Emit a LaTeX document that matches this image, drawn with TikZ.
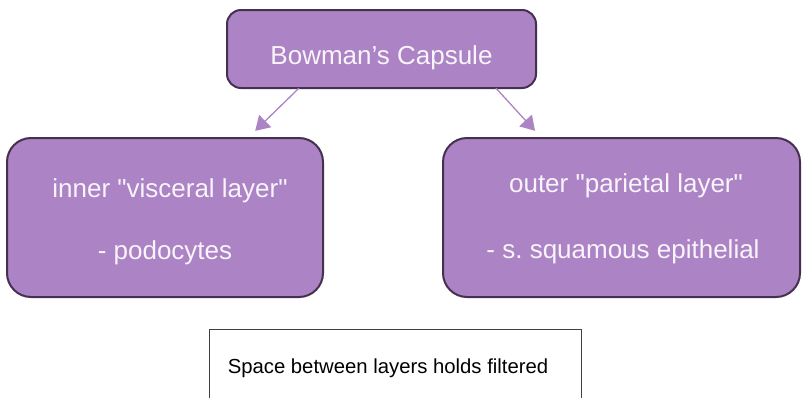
\documentclass[tikz,border=0pt]{standalone}
\usepackage{fontspec}
\setmainfont{Liberation Sans}
\usetikzlibrary{arrows.meta,calc}
\definecolor{boxfill}{HTML}{AC83C5}
\definecolor{boxline}{HTML}{45304F}
\definecolor{txtlight}{HTML}{F8F4FA}
\definecolor{plainline}{HTML}{404040}
\tikzset{
  pbox/.style={draw=boxline, line width=2pt, fill=boxfill, rounded corners=#1, inner sep=0pt},
  ptext/.style={text=txtlight, font=\fontsize{26}{30}\selectfont, anchor=base, inner sep=0pt},
  conn/.style={draw=boxfill, line width=1.3pt, -{Triangle[length=14pt,width=17pt]}},
}
\frenchspacing
\begin{document}
\begin{tikzpicture}[x=1pt,y=-1pt]
\clip (0,0) rectangle (803,397);
\fill[white] (0,0) rectangle (803,397);
% top box
\draw[pbox=14pt] (227,10) rectangle (536,88);
\node[inner sep=0pt, minimum width=309pt, minimum height=78pt] (top) at (381.5,49) {};
\node[ptext] (toptxt) at (381.5,64) {Bowman’s Capsule};
% left box
\draw[pbox=24pt] (7,138) rectangle (323,297);
\node[inner sep=0pt, minimum width=316pt, minimum height=159pt] (left) at (165,217.5) {};
\node[ptext] (l1) at (170,197) {inner \textquotedbl visceral layer\textquotedbl};
\node[ptext] (l2) at (165,259) {- podocytes};
% right box
\draw[pbox=24pt] (443,138) rectangle (800,297);
\node[inner sep=0pt, minimum width=357pt, minimum height=159pt] (right) at (621.5,217.5) {};
\node[ptext] (r1) at (626,192) {outer \textquotedbl parietal layer\textquotedbl};
\node[ptext] (r2) at (623,258) {- s. squamous epithelial};
% arrows
\coordinate (a1s) at ($(top.south west)!0.233!(top.south east)$);
\coordinate (a1e) at ($(left.north west)!0.785!(left.north east)+(0,-7)$);
\coordinate (a2s) at ($(top.south west)!0.87!(top.south east)$);
\coordinate (a2e) at ($(right.north west)!0.258!(right.north east)+(0,-7)$);
\draw[conn] (a1s) -- (a1e);
\draw[conn] (a2s) -- (a2e);
% bottom box
\node[draw=plainline, line width=1pt, minimum width=372pt, minimum height=90pt, inner sep=0pt] (bottom) at (395,374) {};
\node[font=\fontsize{20.3}{24}\selectfont, anchor=base, inner sep=0pt] (btxt) at (388,373) {Space between layers holds filtered};
\end{tikzpicture}
\end{document}
